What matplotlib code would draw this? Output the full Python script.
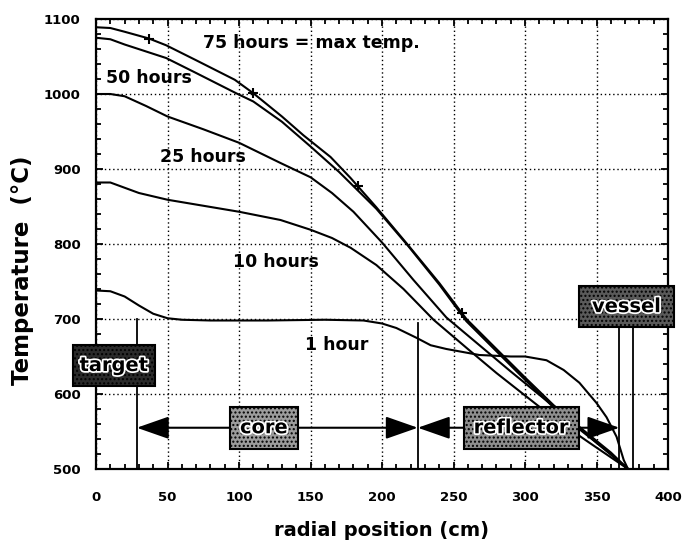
import matplotlib
matplotlib.use("Agg")
import matplotlib.pyplot as plt
import matplotlib.patheffects as pe
from matplotlib.patches import Rectangle
from matplotlib.ticker import MultipleLocator

# temperature profiles (radial position cm, temperature C)
t75_x = [0, 10, 20, 37, 49, 70, 97, 110, 130, 145, 164, 178, 196, 218, 240, 259, 280, 300, 320, 340, 360, 372]
t75_y = [1089, 1088, 1083, 1074, 1065, 1045, 1019, 1001, 970, 945, 916, 888, 849, 799, 748, 700, 660, 622, 585, 553, 522, 500]

t50_x = [0, 10, 20, 49, 70, 98, 110, 130, 150, 170, 196, 218, 240, 259, 280, 300, 320, 340, 360, 372]
t50_y = [1075, 1073, 1066, 1048, 1028, 1001, 990, 963, 930, 896, 847, 798, 746, 697, 657, 619, 582, 550, 520, 500]

t25_x = [0, 10, 20, 35, 50, 75, 100, 129, 150, 165, 180, 200, 222, 245, 270, 290, 308, 330, 350, 372]
t25_y = [1000, 1000, 997, 984, 970, 953, 935, 908, 889, 868, 843, 802, 752, 702, 662, 630, 602, 568, 535, 500]

t10_x = [0, 10, 30, 50, 100, 129, 150, 165, 178, 196, 215, 236, 260, 280, 300, 320, 345, 372]
t10_y = [882, 882, 868, 859, 843, 832, 819, 808, 795, 772, 740, 699, 660, 628, 598, 568, 535, 500]

t1_x = [0, 10, 20, 30, 40, 50, 60, 80, 120, 160, 187, 200, 210, 224, 234, 245, 268, 290, 300, 315, 327, 338, 350, 357, 364, 369, 372]
t1_y = [738, 737, 730, 718, 707, 701, 699, 698, 698, 699, 698, 694, 688, 675, 665, 660, 652, 650, 650, 645, 632, 615, 588, 569, 543, 512, 500]

# "+" marks on the 75 hour curve
mark_x = [37, 110, 183, 256]
mark_y = [1074, 1001, 877, 708]

curve_labels = ["75 hours = max temp.", "50 hours", "25 hours", "10 hours", "1 hour"]
label_x = [75, 7, 45, 96, 146]
label_y = [1068, 1022, 916, 776, 665]

# region boundaries
target_edge = 28.5
core_edge = 225
vessel_in = 366
vessel_out = 375.5
arrow_y = 555

fig = plt.figure(figsize=(6.83, 5.43), dpi=100)
ax = fig.add_axes([0.1406, 0.1363, 0.8375, 0.8287])

for xs, ys in [(t75_x, t75_y), (t50_x, t50_y), (t25_x, t25_y), (t10_x, t10_y), (t1_x, t1_y)]:
    ax.plot(xs, ys, color="k", lw=1.5, solid_capstyle="butt", solid_joinstyle="round", zorder=3)
ax.plot(mark_x, mark_y, ls="none", marker="+", ms=7, mew=1.5, color="k", zorder=4)

for s, x, y in zip(curve_labels, label_x, label_y):
    ax.text(x, y, s, ha="left", va="center", fontsize=12.5, fontweight="bold", zorder=2)

# boundary lines
ax.plot([target_edge, target_edge], [500, 700], color="k", lw=1.3, zorder=3)
ax.plot([core_edge, core_edge], [500, 695], color="k", lw=1.3, zorder=3)
ax.plot([vessel_in, vessel_in], [500, 689], color="k", lw=1.3, zorder=3)
ax.plot([vessel_out, vessel_out], [500, 689], color="k", lw=1.3, zorder=3)

# arrows
arrow_style = "-|>,head_length=1.0,head_width=0.35"
for start, tip in [(117, target_edge), (117, core_edge), (297, core_edge), (297, vessel_in)]:
    ax.annotate("", xy=(tip, arrow_y), xytext=(start, arrow_y),
                arrowprops=dict(arrowstyle=arrow_style, color="k", lw=1.5,
                                mutation_scale=20, shrinkA=0, shrinkB=0),
                zorder=3)

# labelled boxes: (text, x0, x1, y0, y1, face)
boxes = [
    ("target", -16, 41, 611, 665, "#2a2a2a"),
    ("core", 94, 141, 527, 583, "#9c9c9c"),
    ("reflector", 257, 338, 527, 583, "#8e8e8e"),
    ("vessel", 338, 404, 689, 744, "#5a5a5a"),
]
for s, x0, x1, y0, y1, fc in boxes:
    r = Rectangle((x0, y0), x1 - x0, y1 - y0, facecolor=fc, edgecolor="k", lw=1.5,
                  hatch="....", clip_on=False, zorder=5)
    ax.add_patch(r)
    ax.text((x0 + x1) / 2, (y0 + y1) / 2, s, ha="center", va="center", fontsize=14,
            fontweight="bold", color="k", zorder=6, clip_on=False,
            path_effects=[pe.withStroke(linewidth=2.5, foreground="white")])

ax.set_xlim(0, 400)
ax.set_ylim(500, 1100)
ax.xaxis.set_major_locator(MultipleLocator(50))
ax.xaxis.set_minor_locator(MultipleLocator(10))
ax.yaxis.set_major_locator(MultipleLocator(100))
ax.yaxis.set_minor_locator(MultipleLocator(20))
ax.tick_params(which="both", direction="in", top=True, right=True, width=1.3)
ax.tick_params(which="major", length=5)
ax.tick_params(which="minor", length=3.5)
ax.tick_params(axis="x", pad=16)
ax.tick_params(axis="y", pad=11)
for lab in ax.get_xticklabels() + ax.get_yticklabels():
    lab.set_fontsize(9.5)
    lab.set_fontweight("bold")
for sp in ax.spines.values():
    sp.set_linewidth(1.6)

ax.grid(True, which="major", color="k", lw=1.0, ls=(0, (1, 2)))

fig.text(382 / 683, 1 - 531 / 543, "radial position (cm)", ha="center", va="center",
         fontsize=14, fontweight="bold")
fig.text(23 / 683, 1 - 270 / 543, "Temperature  (°C)", ha="center", va="center",
         rotation=90, fontsize=16.5, fontweight="bold")

fig.savefig("out.png", dpi=100)
